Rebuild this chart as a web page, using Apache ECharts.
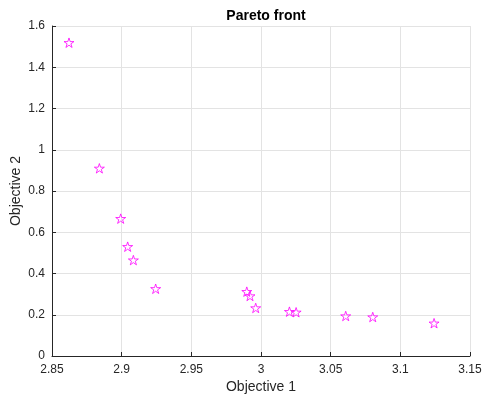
<!DOCTYPE html>
<html><head><meta charset="utf-8">
<script src="https://cdn.jsdelivr.net/npm/echarts@6/dist/echarts.min.js"></script>
<style>html,body{margin:0;padding:0;background:#fff}#c{width:483px;height:400px}</style>
</head><body><div id="c"></div>
<script>
var objective1 = [2.8622, 2.8840, 2.8993, 2.9043, 2.9084, 2.9244, 2.9898, 2.9921, 2.9962, 3.0204, 3.0252, 3.0608, 3.0802, 3.1242];
var objective2 = [1.519, 0.910, 0.666, 0.530, 0.465, 0.326, 0.312, 0.291, 0.233, 0.215, 0.212, 0.194, 0.189, 0.159];
var titleText = 'Pareto front';
var xName = 'Objective 1';
var yName = 'Objective 2';

var pts = objective1.map(function(x, i){ return [x, objective2[i]]; });
var star = 'path://M50 0 L61.17 34.63 L97.55 34.55 L68.07 55.87 L79.39 90.45 L50 69 L20.61 90.45 L31.93 55.87 L2.45 34.55 L38.83 34.63 Z';
var font = 'Liberation Sans, Arial, Helvetica, sans-serif';
var grid = {lineStyle:{color:'#e3e3e3', width:1}};
var chart = echarts.init(document.getElementById('c'), null, {renderer:'canvas'});
chart.setOption({
  animation:false,
  backgroundColor:'#fff',
  title:{text:titleText, left:261, top:4, textAlign:'center',
    textStyle:{fontFamily:font, fontSize:14, fontWeight:'bold', color:'#000'}},
  grid:{left:52, right:13, top:26, bottom:44, containLabel:false, outerBoundsMode:'none'},
  xAxis:{type:'value', min:2.85, max:3.15, interval:0.05,
    name:xName, nameLocation:'middle', nameGap:24, nameMoveOverlap:false,
    nameTextStyle:{fontFamily:font, fontSize:14, color:'#262626'},
    axisLine:{show:true, onZero:false, lineStyle:{color:'#262626', width:1}},
    axisTick:{show:true, inside:true, length:4, lineStyle:{color:'#262626'}},
    axisLabel:{fontFamily:font, fontSize:12, color:'#262626', margin:8,
      formatter:function(v){return String(+v.toFixed(2));}},
    splitLine:Object.assign({show:true}, grid)},
  yAxis:{type:'value', min:0, max:1.6, interval:0.2,
    name:yName, nameLocation:'middle', nameGap:29, nameRotate:90, nameMoveOverlap:false,
    nameTextStyle:{fontFamily:font, fontSize:14, color:'#262626'},
    axisLine:{show:true, onZero:false, lineStyle:{color:'#262626', width:1}},
    axisTick:{show:true, inside:true, length:4, lineStyle:{color:'#262626'}},
    axisLabel:{fontFamily:font, fontSize:12, color:'#262626', margin:7,
      formatter:function(v){return String(+v.toFixed(1));}},
    splitLine:Object.assign({show:true}, grid)},
  series:[{type:'scatter', data:pts, symbol:star, symbolSize:[10,10], symbolKeepAspect:true,
    itemStyle:{color:'rgba(255,255,255,0)', borderColor:'#ff00ff', borderWidth:1}}]
});
</script></body></html>
